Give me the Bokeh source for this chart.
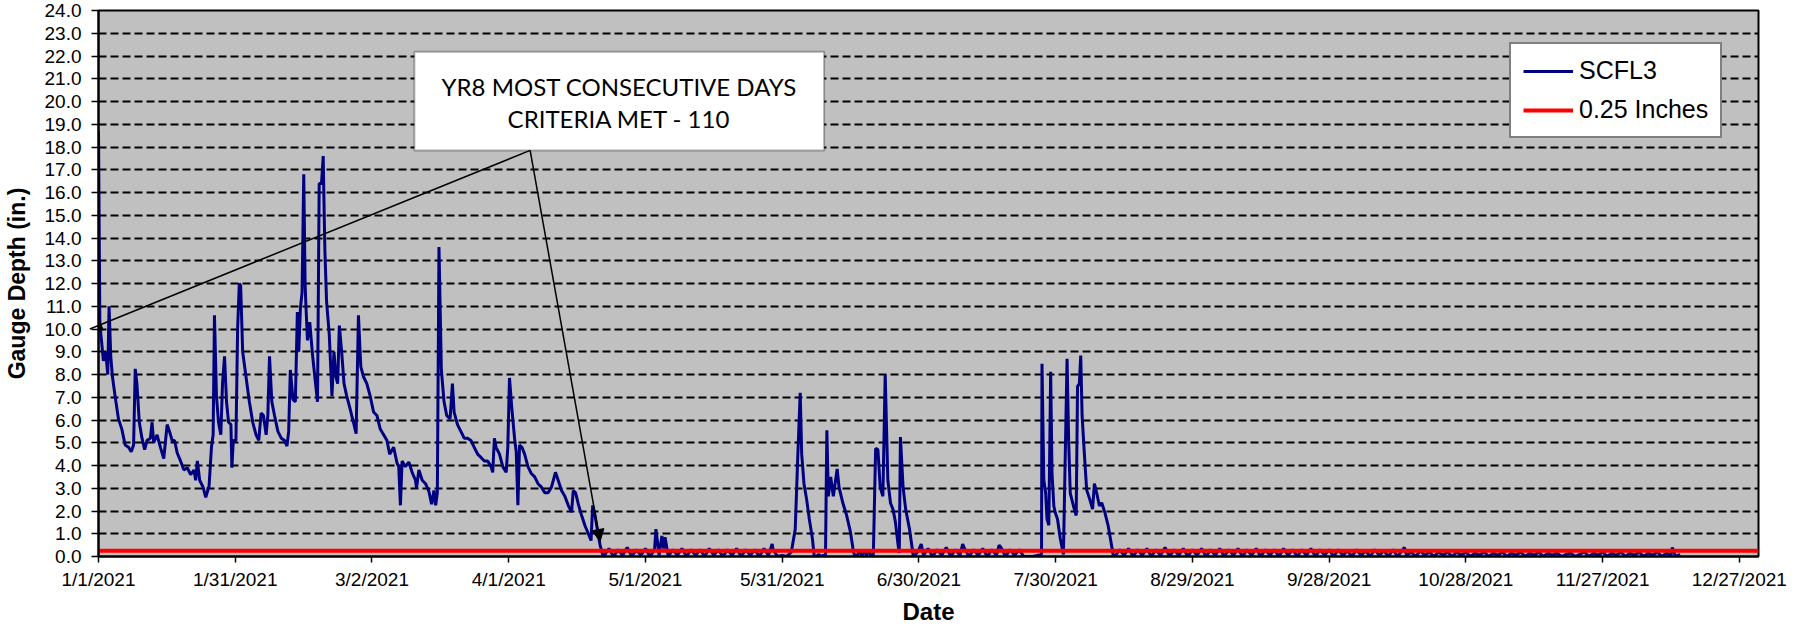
from bokeh.plotting import figure
from bokeh.models import (Range1d, FixedTicker, NumeralTickFormatter, Legend, LegendItem,
                          BoxAnnotation, Label, Arrow, NormalHead)
from bokeh.embed import file_html
from bokeh.resources import INLINE

# ---------------- data (day offset from 1/1/2021, gauge depth in inches) ----------------
jan_apr_days = [0.0, 0.3, 0.7, 1.07, 1.58, 2.03, 2.32, 2.69, 3.06, 3.64, 4.38, 5.12, 5.85, 6.59, 7.18,
                7.70, 8.06, 8.43, 8.95, 9.54, 10.13, 10.64, 11.38, 11.75, 12.11, 12.85, 13.59, 14.32,
                15.06, 15.57, 16.16, 16.68, 17.27, 18.0, 18.74, 19.48, 20.21, 20.95, 21.32, 21.69, 22.2,
                22.94, 23.53, 24.26, 24.78, 25.15, 25.44, 25.88, 26.33, 26.84, 27.21, 27.65, 28.09, 28.54,
                29.05, 29.27, 29.57, 30.15, 30.52, 30.89, 31.19, 31.63, 32.36, 33.1, 33.84, 34.57, 35.16,
                35.68, 36.19, 36.78, 37.15, 37.52, 38.03, 38.62, 39.36, 40.1, 40.83, 41.35, 41.72, 42.09,
                42.67, 43.19, 43.63, 43.93, 44.3, 44.66, 45.03, 45.33, 45.47, 45.85, 46.35, 46.94, 47.46,
                48.05, 48.42, 48.93, 49.3, 49.52, 49.67, 50.04, 50.63, 51.22, 51.66, 52.1, 52.47, 52.84,
                53.35, 53.87, 54.46, 55.19, 55.93, 56.52, 57.03, 57.55, 58.14, 58.87, 59.61, 60.35, 61.08,
                61.82, 62.56, 63.29, 63.88, 64.76, 65.5, 65.87, 66.24, 66.61, 67.34, 68.08, 68.81, 69.55,
                69.77, 70.29, 71.02, 71.76, 72.5, 73.08, 73.6, 73.97, 74.34, 74.7, 75.22, 75.81, 76.4,
                77.14, 77.65, 78.02, 78.76, 79.5, 80.23, 80.97, 81.71, 82.44, 83.18, 83.92, 84.65, 85.39,
                86.13, 86.49, 86.86, 87.23, 87.97, 88.7, 89.44, 89.8, 90.17, 90.69, 91.28, 91.65, 92.01,
                92.38, 92.9, 93.49, 94.22, 94.96, 95.7, 96.43, 97.17, 97.91, 98.64, 99.38, 100.26, 100.85,
                101.58, 102.32, 103.06, 103.79, 104.16, 104.68, 105.27, 106.0, 106.74, 107.47, 108.06,
                108.43, 108.94, 109.53, 110.05, 110.57]
jan_apr_depth = [18.7, 10.2, 9.4, 8.6, 9.0, 8.0, 11.0, 8.8, 7.9, 7.05, 6.05, 5.6, 4.9, 4.8, 4.6,
                 4.9, 8.25, 7.6, 5.9, 5.2, 4.7, 5.1, 5.2, 5.9, 5.0, 5.35, 4.8, 4.3,
                 5.8, 5.5, 5.1, 5.1, 4.55, 4.2, 3.8, 3.9, 3.6, 3.8, 3.35, 4.2, 3.35,
                 3.05, 2.6, 3.1, 4.8, 5.35, 10.6, 7.05, 5.9, 5.35, 7.6, 8.8, 6.8, 5.9,
                 5.8, 3.9, 5.1, 5.1, 10.0, 12.0, 11.9, 9.0, 7.9, 6.8, 5.9, 5.35, 5.1,
                 6.3, 6.2, 5.35, 6.2, 8.8, 6.8, 6.2, 5.5, 5.2, 5.1, 4.85, 5.5, 8.2,
                 6.9, 6.8, 10.75, 9.0, 10.9, 11.6, 16.8, 12.0, 11.2, 9.5, 10.3, 8.9, 7.9,
                 6.8, 16.4, 16.4, 17.6, 15.0, 13.45, 11.2, 9.75, 7.05, 9.0, 7.9, 7.6, 10.15,
                 9.0, 7.6, 7.05, 6.5, 5.9, 5.4, 10.6, 8.35, 7.9, 7.6, 7.05, 6.35, 6.2,
                 5.6, 5.35, 5.1, 4.5, 4.8, 4.1, 3.95, 2.25, 4.2, 3.95, 4.15, 3.7, 3.35,
                 3.0, 3.8, 3.35, 3.2, 2.85, 2.3, 2.9, 2.25, 2.8, 13.6, 8.2, 6.8, 6.2,
                 6.05, 7.6, 6.35, 5.8, 5.5, 5.2, 5.2, 5.1, 4.8, 4.5, 4.35, 4.2, 4.2,
                 3.95, 3.7, 5.2, 4.8, 4.5, 3.95, 3.7, 4.8, 7.85, 6.5, 5.2, 4.6, 2.25,
                 4.9, 4.8, 4.5, 3.95, 3.65, 3.5, 3.2, 3.05, 2.8, 2.8, 3.05, 3.7, 3.35,
                 2.9, 2.65, 2.25, 1.95, 2.9, 2.8, 2.3, 1.8, 1.35, 1.0, 0.7,
                 2.25, 1.8, 1.1, 0.5, 0.1]

may_calm_start = 111
may_calm_depth = [0.05, 0.35, 0.00, 0.30, 0.05, 0.40, 0.00, 0.30, 0.05, 0.35, 0.00, 0.30, 0.05, 0.35,
                  0.00, 0.30, 0.05, 0.35, 0.00, 0.30, 0.05, 0.30, 0.00, 0.35, 0.05, 0.30, 0.00, 0.30,
                  0.05, 0.35, 0.00, 0.30, 0.05, 0.30, 0.00, 0.35, 0.05, 0.30, 0.00, 0.05, 0.00, 0.20]
may_spike_days = [122.3, 123.6, 124.3, 147.8]
may_spike_depth = [1.2, 0.9, 0.85, 0.55]

june_days = [152.86, 153.44, 153.95, 154.28, 154.78, 155.37, 155.95, 156.62, 157.04, 157.5, 158.0,
             158.5, 159.0, 159.5, 159.8, 160.13, 160.64, 161.22, 162.06, 162.47, 163.31, 164.15,
             164.98, 165.65, 165.99, 166.5, 167.0, 167.5, 168.0, 168.5, 169.0, 169.5, 170.0, 170.5,
             171.0, 171.5, 172.09, 172.6, 173.18, 173.76, 174.35, 174.85, 175.43, 175.69, 175.94,
             176.52, 177.11, 177.94, 178.53, 178.78]
june_depth = [1.2, 4.5, 7.2, 4.5, 3.2, 2.5, 1.65, 0.8, 0.0, 0.0, 0.1,
              0.0, 0.05, 0.0, 5.55, 2.65, 3.5, 2.65, 3.85, 3.05, 2.35, 1.8,
              1.07, 0.2, 0.0, 0.05, 0.3, 0.0, 0.3, 0.05, 0.3, 0.0, 0.1, 4.75,
              4.7, 3.05, 2.65, 8.0, 3.35, 2.35, 2.05, 1.5, 0.5, 0.15, 5.25,
              3.05, 2.05, 1.2, 0.35, 0.0]

july_calm_start = 179
july_calm_depth = [0.00, 0.30, 0.05, 0.35, 0.00, 0.30, 0.05, 0.40, 0.00, 0.30, 0.05, 0.35, 0.00, 0.30,
                   0.05, 0.35, 0.00, 0.30, 0.05, 0.40, 0.00, 0.30, 0.05, 0.30, 0.00, 0.00, 0.00, 0.05]
july_spike_days = [180.5, 189.6, 197.6]
july_spike_depth = [0.55, 0.55, 0.5]

aug_days = [206.9, 207.0, 207.4, 207.8, 208.1, 208.5, 208.9, 209.2, 209.6, 209.9, 210.4, 211.0, 211.7,
            212.5, 212.85, 213.2, 213.9, 214.5, 214.8, 215.2, 215.5, 215.8, 216.3, 216.8, 217.5,
            218.1, 218.5, 219.0, 219.6, 220.1, 220.8, 221.5, 222.0, 222.6]
aug_depth = [0.1, 8.47, 3.36, 2.79, 1.65, 1.37, 8.12, 3.64, 2.22, 1.93, 1.65, 0.8, 0.09,
             8.69, 5.06, 2.79, 2.22, 1.8, 7.48, 7.6, 8.83, 6.2, 4.5, 2.93, 2.5,
             2.08, 3.2, 2.79, 2.22, 2.36, 1.93, 1.37, 0.8, 0.09]

fall_calm_start = 223
fall_calm_depth = [0.00, 0.30, 0.05, 0.35, 0.00, 0.30, 0.05, 0.35, 0.00, 0.30, 0.05, 0.40, 0.00, 0.30,
                   0.05, 0.35, 0.00, 0.30, 0.05, 0.35, 0.00,
                   0.30, 0.05, 0.35, 0.00, 0.30, 0.05, 0.35, 0.00, 0.30, 0.05, 0.35, 0.00, 0.30, 0.05,
                   0.30, 0.00, 0.35, 0.05, 0.30, 0.00, 0.30, 0.05, 0.35, 0.00, 0.30, 0.05, 0.30, 0.00,
                   0.30, 0.05,
                   0.25, 0.00, 0.30, 0.05, 0.25, 0.00, 0.30, 0.05, 0.25, 0.00, 0.30, 0.00, 0.25, 0.05,
                   0.20, 0.00, 0.25, 0.05, 0.20, 0.00, 0.20, 0.05, 0.20, 0.00, 0.20, 0.05, 0.20, 0.00,
                   0.15, 0.05, 0.20,
                   0.00, 0.15, 0.05, 0.20, 0.00, 0.15, 0.05, 0.20, 0.00, 0.15, 0.05, 0.20, 0.00, 0.15,
                   0.05, 0.15, 0.00, 0.10, 0.15, 0.00, 0.10, 0.20, 0.00, 0.15, 0.05, 0.20, 0.00, 0.15,
                   0.05, 0.20,
                   0.00, 0.15, 0.05, 0.20, 0.00, 0.15, 0.05, 0.20, 0.00, 0.15, 0.05, 0.00, 0.10]
fall_spike_days = [286.5, 345.3]
fall_spike_depth = [0.4, 0.4]

threshold_in = 0.25
x_axis_end_day = 364.2
x_tick_days = [0, 30, 60, 90, 120, 150, 180, 210, 240, 270, 300, 330, 360]
x_tick_labels = ["1/1/2021", "1/31/2021", "3/2/2021", "4/1/2021", "5/1/2021", "5/31/2021",
                 "6/30/2021", "7/30/2021", "8/29/2021", "9/28/2021", "10/28/2021", "11/27/2021",
                 "12/27/2021"]
y_ticks = list(range(0, 25))

note_lines = ["YR8 MOST CONSECUTIVE DAYS", "CRITERIA MET - 110"]

# ---------------- assemble series ----------------
pairs = list(zip(jan_apr_days, jan_apr_depth))
pairs += [(may_calm_start + i, v) for i, v in enumerate(may_calm_depth)]
pairs += list(zip(may_spike_days, may_spike_depth))
pairs += list(zip(june_days, june_depth))
pairs += [(july_calm_start + i, v) for i, v in enumerate(july_calm_depth)]
pairs += list(zip(july_spike_days, july_spike_depth))
pairs += list(zip(aug_days, aug_depth))
pairs += [(fall_calm_start + i, v) for i, v in enumerate(fall_calm_depth)]
pairs += list(zip(fall_spike_days, fall_spike_depth))
pairs.sort(key=lambda t: t[0])
xs = [d for d, _ in pairs]
ys = [v for _, v in pairs]

FONT = "Liberation Sans"

p = figure(width=1789, height=627, x_range=Range1d(0, x_axis_end_day), y_range=Range1d(0, 24),
           output_backend="svg", toolbar_location=None,
           background_fill_color="#C0C0C0", border_fill_color="white",
           min_border_left=94, min_border_right=31, min_border_top=10, min_border_bottom=60)

p.outline_line_color = "black"
p.outline_line_width = 2

r_blue = p.line(xs, ys, line_color="#000080", line_width=3)
r_red = p.line([0, x_axis_end_day], [threshold_in, threshold_in], line_color="#FF0000", line_width=4)

# axes
p.xaxis.ticker = FixedTicker(ticks=x_tick_days)
p.xaxis.major_label_overrides = {d: lab for d, lab in zip(x_tick_days, x_tick_labels)}
p.yaxis.ticker = FixedTicker(ticks=y_ticks)
p.yaxis.formatter = NumeralTickFormatter(format="0.0")
for ax in (p.xaxis[0], p.yaxis[0]):
    ax.axis_line_color = "black"
    ax.axis_line_width = 2
    ax.major_tick_line_color = "black"
    ax.major_tick_line_width = 1.5
    ax.major_tick_in = 0
    ax.minor_tick_line_color = None
    ax.major_label_text_font = FONT
    ax.major_label_text_font_size = "19px"
    ax.major_label_text_color = "black"
    ax.axis_label_text_font = FONT
    ax.axis_label_text_font_style = "bold"
    ax.axis_label_text_color = "black"
p.xaxis.major_tick_out = 6
p.yaxis.major_tick_out = 7
p.xaxis.major_label_standoff = 6
p.yaxis.major_label_standoff = 10
p.xaxis.axis_label = "Date"
p.xaxis.axis_label_text_font_size = "24px"
p.xaxis.axis_label_standoff = 5
p.yaxis.axis_label = "Gauge Depth (in.)"
p.yaxis.axis_label_text_font_size = "23px"
p.yaxis.axis_label_standoff = 12

p.xgrid.grid_line_color = None
p.ygrid.ticker = FixedTicker(ticks=y_ticks)
p.ygrid.grid_line_color = "black"
p.ygrid.grid_line_width = 2
p.ygrid.grid_line_dash = "8 4"

# annotation box + arrows
box_left, box_right, box_bottom, box_top = 69.3, 159.2, 17.85, 22.19
p.add_layout(BoxAnnotation(left=box_left, right=box_right, bottom=box_bottom, top=box_top,
                           fill_color="white", fill_alpha=1.0, line_color="black", line_width=2,
                           level="annotation"))
arrow_start = (94.7, box_bottom)
arrow_tips = [(-1.9, 10.0), (110.05, 0.66)]
for tx, ty in arrow_tips:
    p.add_layout(Arrow(end=NormalHead(size=12, fill_color="black", line_color="black"),
                       x_start=arrow_start[0], y_start=arrow_start[1], x_end=tx, y_end=ty,
                       line_color="black", line_width=1.5))
note_y = [20.66, 19.24]
for txt, ty in zip(note_lines, note_y):
    p.add_layout(Label(x=(box_left + box_right) / 2, y=ty, text=txt, text_align="center",
                       text_baseline="middle", text_font="Lato", text_font_size="24px",
                       text_color="black"))

legend = Legend(items=[LegendItem(label="SCFL3", renderers=[r_blue]),
                       LegendItem(label="0.25 Inches", renderers=[r_red])],
                location=(1411, 418))
legend.label_text_font = FONT
legend.label_text_font_size = "25px"
legend.label_text_color = "black"
legend.glyph_width = 50
legend.glyph_height = 26
legend.label_standoff = 6
legend.padding = 12
legend.spacing = 10
legend.margin = 0
legend.border_line_color = "black"
legend.border_line_width = 2
legend.background_fill_color = "white"
legend.background_fill_alpha = 1.0
p.add_layout(legend)

open("out.html", "w").write(file_html(p, INLINE))
